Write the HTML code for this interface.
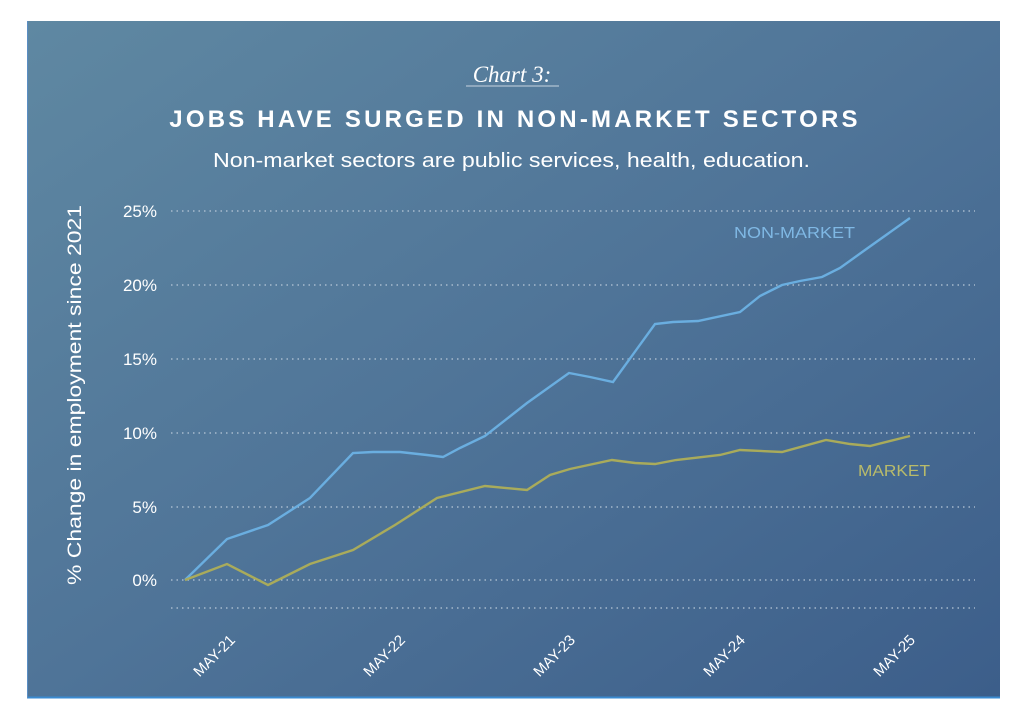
<!DOCTYPE html>
<html><head><meta charset="utf-8"><style>
html,body{margin:0;padding:0;background:#fff;}
svg{display:block;}
</style></head><body>
<svg width="1023" height="721" xmlns="http://www.w3.org/2000/svg">
<defs>
<linearGradient id="bg" x1="0" y1="0" x2="1" y2="1">
<stop offset="0" stop-color="#5f88a2"/>
<stop offset="0.5" stop-color="#4f7498"/>
<stop offset="1" stop-color="#3c5e8a"/>
</linearGradient>
</defs>
<rect x="27" y="21" width="973" height="677" fill="url(#bg)"/>
<line x1="27" y1="697.5" x2="1000" y2="697.5" stroke="#3a8ad0" stroke-width="2"/>
<line x1="27.5" y1="21" x2="27.5" y2="698" stroke="#5a8ec4" stroke-width="1"/>
<g font-family="Liberation Sans, sans-serif" fill="#fff">
<text x="512" y="82" font-family="Liberation Serif, serif" font-style="italic" font-size="23" text-anchor="middle">Chart 3:</text>
<line x1="466" y1="86" x2="559" y2="86" stroke="#c8d4e0" stroke-width="1"/>
<text x="515" y="127" font-size="24" font-weight="bold" letter-spacing="3.2" text-anchor="middle">JOBS HAVE SURGED IN NON-MARKET SECTORS</text>
<text x="213" y="167" font-size="20" textLength="597" lengthAdjust="spacingAndGlyphs">Non-market sectors are public services, health, education.</text>
<text transform="translate(81,585) rotate(-90)" font-size="19" textLength="380" lengthAdjust="spacingAndGlyphs">% Change in employment since 2021</text>
<g font-size="17" text-anchor="end">
<text x="157" y="217">25%</text><text x="157" y="291">20%</text><text x="157" y="365">15%</text>
<text x="157" y="439">10%</text><text x="157" y="513">5%</text><text x="157" y="586">0%</text>
</g>
<g stroke="#b8c8d8" stroke-width="1.3" stroke-dasharray="1.5 4">
<line x1="171" y1="211" x2="975" y2="211"/><line x1="171" y1="285" x2="975" y2="285"/>
<line x1="171" y1="359" x2="975" y2="359"/><line x1="171" y1="433" x2="975" y2="433"/>
<line x1="171" y1="507" x2="975" y2="507"/><line x1="171" y1="580" x2="975" y2="580"/>
<line x1="171" y1="608" x2="975" y2="608"/>
</g>
<g font-size="15" text-anchor="end">
<text transform="translate(236,641) rotate(-45)">MAY-21</text>
<text transform="translate(406,641) rotate(-45)">MAY-22</text>
<text transform="translate(576,641) rotate(-45)">MAY-23</text>
<text transform="translate(746,641) rotate(-45)">MAY-24</text>
<text transform="translate(916,641) rotate(-45)">MAY-25</text>
</g>
<polyline fill="none" stroke="#6aaee0" stroke-width="2.4" points="185,580 227,539 268,525 310,498 353,453 373,452 400,452 427,455 443,457 460,448 485,436 527,403 569,373 590,377 613,382 655,324 673,322 698,321 740,312 760,296 782,285 800,281 822,277 840,268 865,250 910,218"/>
<polyline fill="none" stroke="#a9ab5b" stroke-width="2.4" points="185,580 227,564 268,585 310,564 353,550 395,525 437,498 485,486 527,490 550,475 570,469 612,460 635,463 655,464 676,460 720,455 740,450 782,452 826,440 850,444 870,446 910,436"/>
<text x="734" y="238" font-size="16" fill="#7fb8e4" textLength="121" lengthAdjust="spacingAndGlyphs">NON-MARKET</text>
<text x="858" y="476" font-size="16" fill="#b9bb6a" textLength="72" lengthAdjust="spacingAndGlyphs">MARKET</text>
</g>
</svg>
</body></html>
